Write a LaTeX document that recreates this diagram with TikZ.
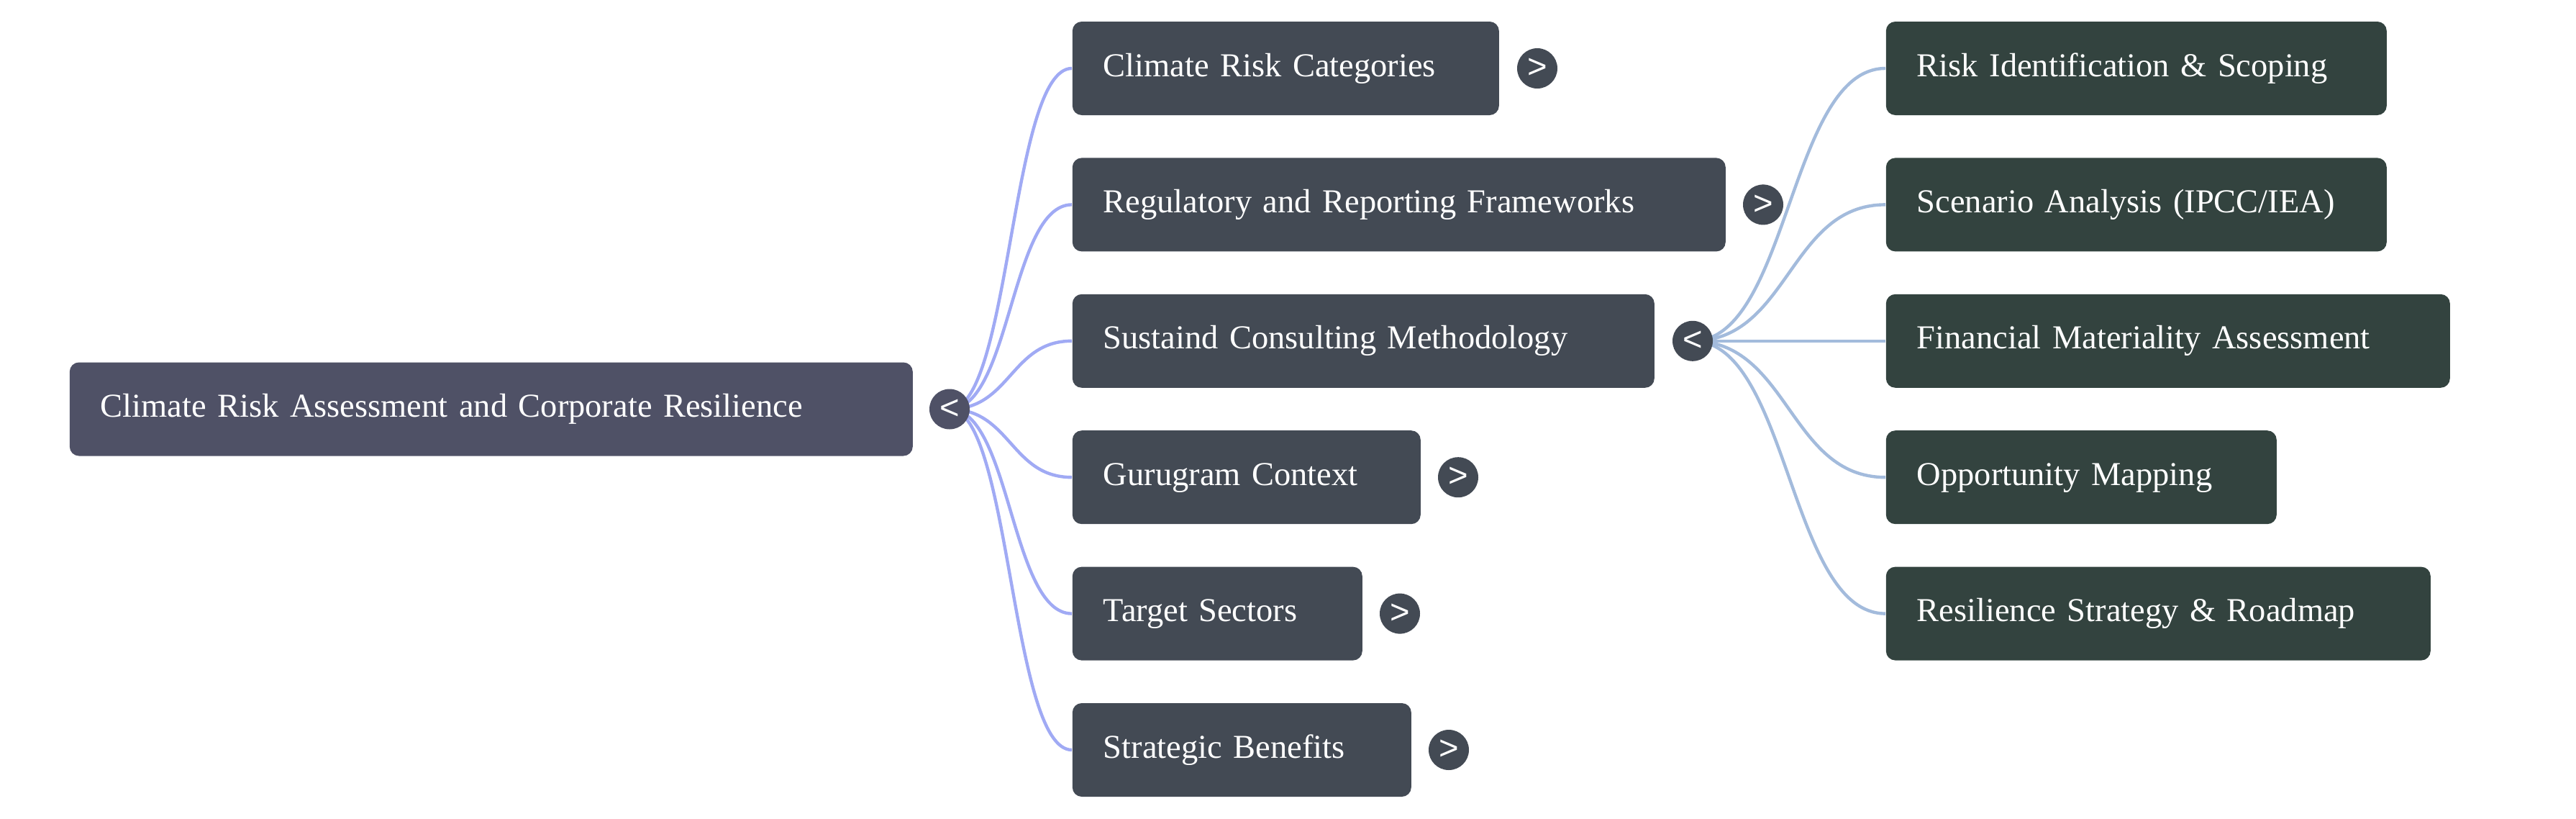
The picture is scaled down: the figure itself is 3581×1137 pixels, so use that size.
\documentclass[tikz,border=0pt]{standalone}
\usepackage{fontspec}
\setmainfont{Liberation Serif}
\newfontfamily\chevfont{Liberation Sans}
\usetikzlibrary{backgrounds}
\definecolor{rootfill}{HTML}{4F5166}
\definecolor{lonefill}{HTML}{434A54}
\definecolor{ltwofill}{HTML}{33433F}
\definecolor{lineone}{HTML}{A0AAF4}
\definecolor{linetwo}{HTML}{A3BBDC}
\begin{document}
\begin{tikzpicture}[x=0.25pt,y=-0.25pt,
  box/.style={rectangle, rounded corners=3.25pt, anchor=west, inner xsep=10.75pt, inner ysep=0pt,
    minimum height=32.5pt, text height=8.5pt, text depth=3pt, text=white, align=left,
    font=\fontsize{11.62pt}{14pt}\selectfont},
  rootbox/.style={box, fill=rootfill},
  onebox/.style={box, fill=lonefill},
  twobox/.style={box, fill=ltwofill},
  tog/.style={circle, minimum size=14pt, inner sep=0pt, text=white,
    font=\chevfont\fontsize{11.8pt}{14pt}\selectfont},
  conone/.style={draw=lineone, line width=1.1pt},
  contwo/.style={draw=linetwo, line width=1.1pt}]
\useasboundingbox (0,0) rectangle (3581,1137);

% root
\node[rootbox, text width=271.5pt] (root) at (96,568.5) {Climate Risk Assessment and Corporate Resilience};
\node[tog, fill=rootfill] (t0) at (1320,568.5) {<};

% level 1
\node[onebox, text width=126.75pt] (a) at (1490,95) {Climate Risk Categories};
\node[onebox, text width=205.5pt] (b) at (1490,284.4) {Regulatory and Reporting Frameworks};
\node[onebox, text width=180.75pt] (c) at (1490,473.8) {Sustaind Consulting Methodology};
\node[onebox, text width=99.5pt] (d) at (1490,663.2) {Gurugram Context};
\node[onebox, text width=79.25pt] (e) at (1490,852.6) {Target Sectors};
\node[onebox, text width=96.25pt] (f) at (1490,1042) {Strategic Benefits};

\node[tog, fill=lonefill] (ta) at (2137,95) {>};
\node[tog, fill=lonefill] (tb) at (2451,284.4) {>};
\node[tog, fill=lonefill] (tc) at (2353,473.8) {<};
\node[tog, fill=lonefill] (td) at (2027,663.2) {>};
\node[tog, fill=lonefill] (te) at (1946,852.6) {>};
\node[tog, fill=lonefill] (tf) at (2014,1042) {>};

% level 2
\node[twobox, text width=152.5pt] (ca) at (2621,95) {Risk Identification \& Scoping};
\node[twobox, text width=152.5pt] (cb) at (2621,284.4) {Scenario Analysis (IPCC/IEA)};
\node[twobox, text width=174.5pt] (cc) at (2621,473.8) {Financial Materiality Assessment};
\node[twobox, text width=114.25pt] (cd) at (2621,663.2) {Opportunity Mapping};
\node[twobox, text width=167.75pt] (ce) at (2621,852.6) {Resilience Strategy \& Roadmap};

\begin{pgfonlayer}{background}
\foreach \n in {a,b,c,d,e,f}
  \draw[conone] (t0.center) .. controls +(85,0) and +(-85,0) .. (\n.west);
\foreach \n in {ca,cb,cc,cd,ce}
  \draw[contwo] (tc.center) .. controls +(134,0) and +(-134,0) .. (\n.west);
\end{pgfonlayer}
\end{tikzpicture}
\end{document}
